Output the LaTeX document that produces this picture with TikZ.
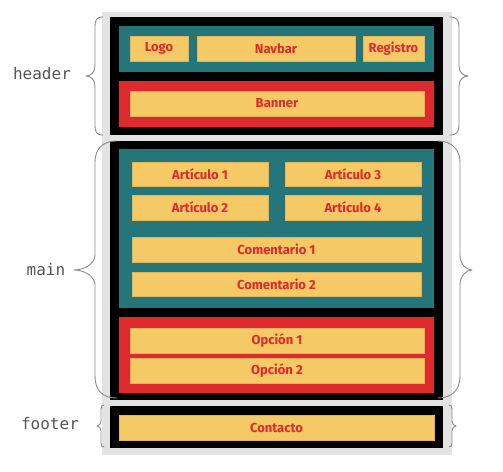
\documentclass[tikz,border=0pt]{standalone}
\usepackage{fontspec}
\newfontfamily\boxfont{Fira Sans}
\newfontfamily\labfont{DejaVu Sans Mono}
\definecolor{bggray}{HTML}{E3E3E3}
\definecolor{tealc}{HTML}{24767A}
\definecolor{redc}{HTML}{DC2A2E}
\definecolor{yelc}{HTML}{F5C966}
\definecolor{yeledge}{HTML}{E3B555}
\definecolor{bracec}{HTML}{8A8A8A}
\definecolor{labc}{HTML}{555555}
\begin{document}
\begin{tikzpicture}[x=1pt,y=-1pt,
  area/.style={inner sep=0pt, outer sep=0pt, minimum width=#1},
  blackbox/.style={area=333, fill=black},
  tealbox/.style={area=315, fill=tealc},
  redbox/.style={area=315, fill=redc},
  ybox/.style={inner sep=0pt, outer sep=0pt, fill=yelc, draw=yeledge, line width=0.6pt,
     minimum height=25, text=redc, font=\boxfont\bfseries\fontsize{13}{15}\selectfont},
  brace/.style={draw=bracec, line width=0.9pt, line cap=round, line join=round},
  lab/.style={text=labc, font=\labfont\fontsize{16}{18}\selectfont}]
\useasboundingbox (0,0) rectangle (503,471);
\fill[bggray] (102,12) rectangle (452,455);
% header
\node[blackbox, minimum height=118] (header) at (276.5,76) {};
\node[tealbox, minimum height=46] (navarea) at (276.5,49) {};
\node[ybox, minimum width=58] (logo) at (159,48.5) {Logo};
\node[ybox, minimum width=158] (navbar) at (276,48.5) {Navbar};
\node[ybox, minimum width=61] (registro) at (393.5,48.5) {Registro};
\node[redbox, minimum height=46] (bannerarea) at (276.5,104) {};
\node[ybox, minimum width=294] (banner) at (277,103.5) {Banner};
% main
\node[blackbox, minimum height=259] (main) at (276.5,270.5) {};
\node[tealbox, minimum height=159] (artarea) at (276.5,228.5) {};
\node[ybox, minimum width=136, minimum height=24] (a1) at (200,174) {Artículo 1};
\node[ybox, minimum width=136, minimum height=24] (a3) at (353,174) {Artículo 3};
\node[ybox, minimum width=136] (a2) at (200,207.5) {Artículo 2};
\node[ybox, minimum width=136] (a4) at (353,207.5) {Artículo 4};
\node[ybox, minimum width=289] (c1) at (276.5,249.5) {Comentario 1};
\node[ybox, minimum width=289, minimum height=24] (c2) at (276.5,284) {Comentario 2};
\node[redbox, minimum height=76] (optarea) at (276.5,355) {};
\node[ybox, minimum width=294] (o1) at (277,340.5) {Opción 1};
\node[ybox, minimum width=294] (o2) at (277,370.5) {Opción 2};
% footer
\node[blackbox, minimum height=42] (footer) at (276.5,427) {};
\node[ybox, minimum width=315] (contacto) at (276.5,427.5) {Contacto};
% braces
\path[brace] (103,17) .. controls (96,17) and (95,20) .. (95,28) -- (95,66)
  .. controls (95,73) and (90,76) .. (86,76) .. controls (90,76) and (95,79) .. (95,86)
  -- (95,124) .. controls (95,132) and (96,135) .. (103,135);
\path[brace] (450,17) .. controls (457,17) and (459,20) .. (459,28) -- (459,66)
  .. controls (459,73) and (464,76) .. (468,76) .. controls (464,76) and (459,79) .. (459,86)
  -- (459,124) .. controls (459,132) and (457,135) .. (450,135);
\path[brace] (116,141) .. controls (102,141) and (95,150) .. (95,162) -- (95,255)
  .. controls (95,264) and (84,270) .. (74,270) .. controls (84,270) and (95,276) .. (95,285)
  -- (95,376) .. controls (95,390) and (102,398) .. (117,398);
\path[brace] (438,141) .. controls (452,141) and (460,150) .. (460,162) -- (460,255)
  .. controls (460,264) and (466,270) .. (472,270) .. controls (466,270) and (460,276) .. (460,285)
  -- (460,376) .. controls (460,390) and (452,398) .. (438,398);
\path[brace] (104,405) .. controls (102,405) and (101,406) .. (101,409) -- (101,421)
  .. controls (101,424) and (99,426) .. (97,426) .. controls (99,426) and (101,428) .. (101,431)
  -- (101,443) .. controls (101,446) and (102,447) .. (104,447);
\path[brace] (449,405) .. controls (451,405) and (452,406) .. (452,409) -- (452,421)
  .. controls (452,424) and (454,426) .. (456,426) .. controls (454,426) and (452,428) .. (452,431)
  -- (452,443) .. controls (452,446) and (451,447) .. (449,447);
% labels
\node[lab] (lheader) at (42,74) {header};
\node[lab] (lmain) at (46,270) {main};
\node[lab] (lfooter) at (50,424) {footer};
\end{tikzpicture}
\end{document}
